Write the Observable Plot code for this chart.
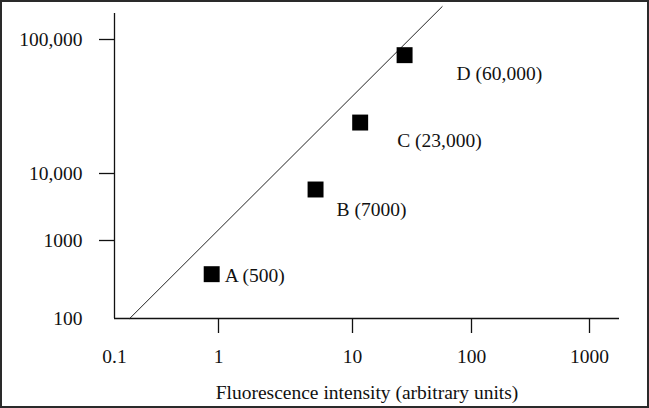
<!DOCTYPE html>
<html>
<head>
<meta charset="utf-8">
<script src="https://cdn.jsdelivr.net/npm/d3@7"></script>
<script src="https://cdn.jsdelivr.net/npm/@observablehq/plot@0.6"></script>
<style>
  html, body { margin: 0; padding: 0; background: white; }
  #wrap { position: relative; width: 649px; height: 408px; overflow: hidden; }
  #wrap svg { position: absolute; left: 0; top: 0; }
  #border { position: absolute; left: 0; top: 0; width: 649px; height: 408px; box-sizing: border-box; border: 2px solid #2a2a2a; pointer-events: none; }
</style>
</head>
<body>
<div id="wrap"><div id="border"></div></div>
<script>
// Samples
const labels = ["A (500)", "B (7000)", "C (23,000)", "D (60,000)"];
const xValues = [0.86, 5.3, 11.6, 27.4];
const yValues = [370, 5770, 24000, 76400];

// Reference line end points
const lineX = [0.14, 56.7];
const lineY = [100, 176000];

// Axis ticks
const xTicks = [0.1, 1, 10, 100, 1000];
const xTickLabels = ["0.1", "1", "10", "100", "1000"];
const yTicks = [100, 1000, 10000, 100000];
const yTickLabels = ["100", "1000", "10,000", "100,000"];
const xTitle = "Fluorescence intensity (arbitrary units)";

const points = labels.map((label, i) => ({label, x: xValues[i], y: yValues[i]}));
const lineData = lineX.map((x, i) => ({x, y: lineY[i]}));

const fmtX = d => xTickLabels[xTicks.indexOf(d)];
const fmtY = d => yTickLabels[yTicks.indexOf(d)];
const ink = "#111";

const labelMark = (k, dx, dy) => Plot.text(points, {
  filter: (d, i) => i === k, x: "x", y: "y", text: "label",
  textAnchor: "start", dx, dy, fill: ink
});

const chart = Plot.plot({
  width: 649,
  height: 408,
  marginLeft: 114,
  marginRight: 30,
  marginTop: 13,
  marginBottom: 90,
  style: {fontFamily: "'Liberation Serif', 'Times New Roman', serif", fontSize: "19.5px", color: ink, background: "transparent"},
  x: {type: "log", domain: xTicks, range: [114, 218, 352, 471, 589]},
  y: {type: "log", domain: yTicks, range: [318, 240, 173, 39]},
  marks: [
    // axis lines
    Plot.ruleX([xTicks[0]], {stroke: ink, strokeWidth: 1.3}),
    Plot.ruleY([yTicks[0]], {stroke: ink, strokeWidth: 1.3}),
    // y axis: ticks (except the corner) and labels
    Plot.axisY(yTicks.slice(1), {tickSize: 15, tickFormat: () => "", stroke: ink, strokeWidth: 1.3, label: null}),
    Plot.axisY(yTicks, {tickSize: 0, tickPadding: 32, tickFormat: fmtY, fill: ink, label: null}),
    // x axis: ticks (except the corner) and labels
    Plot.axisX(xTicks.slice(1), {tickSize: 15, tickFormat: () => "", stroke: ink, strokeWidth: 1.3, label: null}),
    Plot.axisX(xTicks, {tickSize: 0, tickPadding: 31, tickFormat: fmtX, fill: ink, label: null}),
    Plot.text([xTitle], {frameAnchor: "bottom", lineAnchor: "top", dy: 67, fill: ink}),
    // reference line
    Plot.line(lineData, {x: "x", y: "y", stroke: "#222", strokeWidth: 1}),
    // samples
    Plot.dot(points, {x: "x", y: "y", symbol: "square", r: 9, fill: "black", stroke: null}),
    labelMark(0, 13, 2),
    labelMark(1, 21, 20),
    labelMark(2, 37, 18),
    labelMark(3, 52, 19)
  ]
});

document.getElementById("wrap").prepend(chart);
</script>
</body>
</html>
